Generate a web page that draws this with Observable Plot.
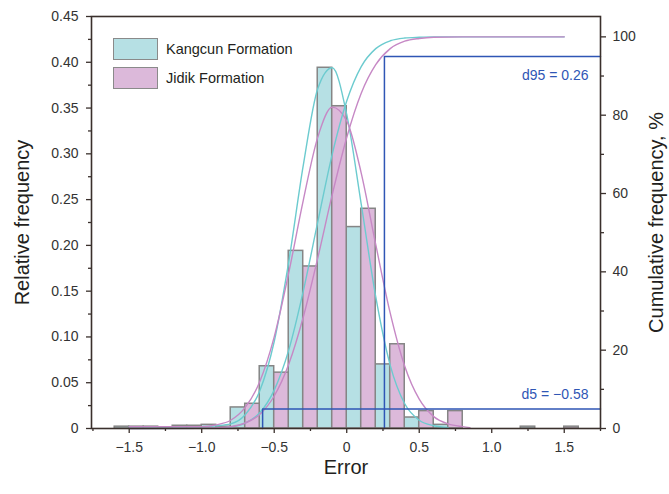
<!DOCTYPE html>
<html>
<head>
<meta charset="utf-8">
<script src="https://cdn.jsdelivr.net/npm/d3@7"></script>
<script src="https://cdn.jsdelivr.net/npm/@observablehq/plot@0.6"></script>
<style>
  html, body { margin: 0; padding: 0; background: #fff; }
  #wrap { position: relative; width: 669px; height: 494px; font-family: "Liberation Sans", Arial, sans-serif; }
  .leg { position: absolute; display: flex; align-items: center; font-size: 14.5px; color: #231f20; }
  .sw { width: 43px; height: 20px; border: 1.5px solid #8a8a8a; margin-right: 8px; }
</style>
</head>
<body>
<div id="wrap">
  <div class="leg" style="left:113px; top:38px;"><div class="sw" style="background:#b6e0e4"></div>Kangcun Formation</div>
  <div class="leg" style="left:113px; top:67px;"><div class="sw" style="background:#dcb9da"></div>Jidik Formation</div>
</div>
<script>
// ---- data ----
const binStart = [-1.6, -1.4, -1.2, -1.0, -0.8, -0.6, -0.4, -0.2, 0.0, 0.2, 0.4, 0.6, 0.8, 1.0, 1.2, 1.4];
const kangcunFreq = [0.002, 0.002, 0.003, 0.004, 0.023, 0.068, 0.194, 0.394, 0.220, 0.070, 0.012, 0.004, 0, 0, 0.002, 0];
const jidikFreq   = [0.002, 0.001, 0.003, 0.002, 0.027, 0.061, 0.177, 0.352, 0.240, 0.092, 0.019, 0.019, 0, 0, 0, 0.002];

const kangcunBellX = [-1.5, -1.4, -1.3, -1.2, -1.1, -1.0, -0.9, -0.8, -0.7, -0.6, -0.5, -0.4, -0.3, -0.2, -0.1, 0.0, 0.1, 0.2, 0.3, 0.4, 0.5, 0.6, 0.7];
const kangcunBellY = [0.002, 0.002, 0.002, 0.002, 0.002, 0.002, 0.003, 0.005, 0.015, 0.041, 0.095, 0.182, 0.287, 0.371, 0.394, 0.343, 0.245, 0.144, 0.069, 0.027, 0.009, 0.003, 0.001];
const jidikBellX = [-1.5, -1.4, -1.3, -1.2, -1.1, -1.0, -0.9, -0.8, -0.7, -0.6, -0.5, -0.4, -0.3, -0.2, -0.1, 0.0, 0.1, 0.2, 0.3, 0.4, 0.5, 0.6, 0.7, 0.8, 0.85];
const jidikBellY = [0.002, 0.002, 0.002, 0.002, 0.002, 0.002, 0.004, 0.009, 0.023, 0.051, 0.100, 0.170, 0.249, 0.318, 0.351, 0.336, 0.279, 0.201, 0.126, 0.068, 0.032, 0.013, 0.005, 0.002, 0.001];

const cumX = [-1.5, -1.0, -0.9, -0.8, -0.7, -0.6, -0.5, -0.4, -0.3, -0.2, -0.1, 0.0, 0.1, 0.2, 0.3, 0.4, 0.5, 0.6, 0.8, 1.0, 1.5];
const kangcunCum = [0, 0.02, 0.1, 0.4, 1.4, 4.0, 9.8, 20, 35, 52.7, 70, 83.6, 92.4, 97.0, 99.0, 99.7, 99.9, 100, 100, 100, 100];
const jidikCum   = [0, 0.03, 0.14, 0.45, 1.4, 3.6, 8.3, 16.4, 28.4, 43.5, 59.7, 74.3, 85.6, 92.9, 97.0, 98.9, 99.6, 99.9, 100, 100, 100];

const dNames = ["d95", "d5"];
const dValues = [0.26, -0.58];
const dLevels = [95, 5];
const dLabels = ["d95 = 0.26", "d5 = \u22120.58"];
const dLabelLevels = [90.2, 8.6];

const xTicks = [-1.5, -1.0, -0.5, 0, 0.5, 1.0, 1.5];
const xMinor = [-1.75, -1.25, -0.75, -0.25, 0.25, 0.75, 1.25, 1.75];
const yTicks = [0, 0.05, 0.10, 0.15, 0.20, 0.25, 0.30, 0.35, 0.40, 0.45];
const yMinor = [0.025, 0.075, 0.125, 0.175, 0.225, 0.275, 0.325, 0.375, 0.425];
const cumTicks = [0, 20, 40, 60, 80, 100];
const cumMinor = [10, 30, 50, 70, 90];

// ---- scales ----
const xDomain = [-1.76, 1.75];
const yMax = 0.45;
const cumMax = 105.2;
const k = yMax / cumMax; // cumulative % -> left-axis units

const cyanFill = "#b6e0e4", pinkFill = "#dcb9da";
const cyanLine = "#6ccbcf", pinkLine = "#c688c5";
const blue = "#2f56b5";
const axisColor = "#3a302c";

const kBars = binStart.map((s, i) => ({x1: s, x2: s + 0.1, y: kangcunFreq[i]})).filter(d => d.y > 0);
const jBars = binStart.map((s, i) => ({x1: s + 0.1, x2: s + 0.2, y: jidikFreq[i]})).filter(d => d.y > 0);
const kBell = kangcunBellX.map((x, i) => ({x, y: kangcunBellY[i]}));
const jBell = jidikBellX.map((x, i) => ({x, y: jidikBellY[i]}));
const kCum = cumX.map((x, i) => ({x, y: kangcunCum[i] * k}));
const jCum = cumX.map((x, i) => ({x, y: jidikCum[i] * k}));
const dPaths = dValues.map((v, i) => [
  {x: v, y: 0, g: dNames[i]},
  {x: v, y: dLevels[i] * k, g: dNames[i]},
  {x: xDomain[1], y: dLevels[i] * k, g: dNames[i]}
]).flat();
const dText = dLabels.map((t, i) => ({x: xDomain[1], y: dLabelLevels[i] * k, t}));

const fmtX = d => d === 0 ? "0" : (d < 0 ? "\u2212" : "") + Math.abs(d).toFixed(1);
const fmtY = d => d === 0 ? "0" : d.toFixed(2);

const chart = Plot.plot({
  width: 669,
  height: 494,
  marginLeft: 91,
  marginRight: 69,
  marginTop: 16,
  marginBottom: 66,
  x: {domain: xDomain},
  y: {domain: [0, yMax]},
  style: {fontFamily: "'Liberation Sans', Arial, sans-serif", fontSize: "14px", color: "#333", background: "white"},
  marks: [
    Plot.rectY(kBars, {x1: "x1", x2: "x2", y1: 0, y2: "y", fill: cyanFill, stroke: "#858585", strokeWidth: 1.5}),
    Plot.rectY(jBars, {x1: "x1", x2: "x2", y1: 0, y2: "y", fill: pinkFill, stroke: "#858585", strokeWidth: 1.5}),
    Plot.line(kBell, {x: "x", y: "y", stroke: cyanLine, strokeWidth: 1.4, curve: "monotone-x"}),
    Plot.line(jBell, {x: "x", y: "y", stroke: pinkLine, strokeWidth: 1.4, curve: "monotone-x"}),
    Plot.line(kCum, {x: "x", y: "y", stroke: cyanLine, strokeWidth: 1.4, curve: "monotone-x"}),
    Plot.line(jCum, {x: "x", y: "y", stroke: pinkLine, strokeWidth: 1.4, curve: "monotone-x"}),
    Plot.line(dPaths, {x: "x", y: "y", z: "g", stroke: blue, strokeWidth: 1.5}),
    Plot.text(dText, {x: "x", y: "y", text: "t", textAnchor: "end", dx: -12, fill: blue, fontSize: 14}),
    // axes
    Plot.axisX({ticks: xTicks, tickFormat: fmtX, tickSize: 5, tickPadding: 9, label: null, stroke: axisColor, strokeWidth: 1.3}),
    Plot.axisX({ticks: xMinor, tickFormat: () => "", tickSize: 3, label: null, stroke: axisColor, strokeWidth: 1.3}),
    Plot.axisY({ticks: yTicks, tickFormat: fmtY, tickSize: 5, tickPadding: 8, label: null, stroke: axisColor, strokeWidth: 1.3}),
    Plot.axisY({ticks: yMinor, tickFormat: () => "", tickSize: 3, label: null, stroke: axisColor, strokeWidth: 1.3}),
    Plot.axisY({anchor: "right", ticks: cumTicks.map(v => v * k), tickFormat: d => String(Math.round(d / k)), tickSize: 5, tickPadding: 7, label: null, stroke: axisColor, strokeWidth: 1.3}),
    Plot.axisY({anchor: "right", ticks: cumMinor.map(v => v * k), tickFormat: () => "", tickSize: 3, label: null, stroke: axisColor, strokeWidth: 1.3}),
    Plot.frame({stroke: axisColor, strokeWidth: 1.6}),
    // axis titles
    Plot.text(["Relative frequency"], {frameAnchor: "left", dx: -69, rotate: -90, text: d => d, textAnchor: "middle", lineAnchor: "middle", fontSize: 20, fill: "#231f20"}),
    Plot.text(["Cumulative frequency, %"], {frameAnchor: "right", dx: 56, rotate: -90, text: d => d, textAnchor: "middle", lineAnchor: "middle", fontSize: 20, fill: "#231f20"}),
    Plot.text(["Error"], {frameAnchor: "bottom", dy: 39, text: d => d, textAnchor: "middle", lineAnchor: "middle", fontSize: 20, fill: "#231f20"})
  ]
});
document.getElementById("wrap").prepend(chart);
chart.style.position = "absolute";
chart.style.left = "0";
chart.style.top = "0";
</script>
</body>
</html>
